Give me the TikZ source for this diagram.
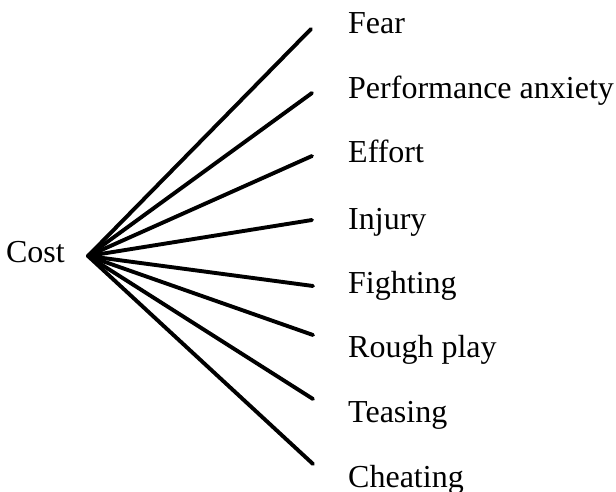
\documentclass[tikz,border=0pt]{standalone}
\usepackage{fontspec}
\setmainfont{Liberation Serif}
\begin{document}
\begin{tikzpicture}[x=1pt,y=-1pt,
  label/.style={anchor=base west,inner sep=0pt,font=\fontsize{32}{38}\selectfont},
  root/.style={anchor=base east,inner sep=0pt,font=\fontsize{32}{38}\selectfont},
  branch/.style={line width=3.9pt,line cap=round}]
  \useasboundingbox (0,0) rectangle (616,492);
  \clip (0,0) rectangle (616,492);

  % root of the fan
  \node[root] (cost) at (65,262) {Cost};
  \coordinate (hub) at (88,256);

  % free ends of the branches
  \coordinate (e1) at (311,29);
  \coordinate (e2) at (312,93);
  \coordinate (e3) at (312,156);
  \coordinate (e4) at (312,220);
  \coordinate (e5) at (313,286);
  \coordinate (e6) at (313,335);
  \coordinate (e7) at (313,399);
  \coordinate (e8) at (313,464);

  % labels
  \node[label] (l1) at (348,34)  {Fear};
  \node[label] (l2) at (348,99)  {Performance anxiety};
  \node[label] (l3) at (348,163) {Effort};
  \node[label] (l4) at (348,229) {Injury};
  \node[label] (l5) at (348,293) {Fighting};
  \node[label] (l6) at (348,357) {Rough play};
  \node[label] (l7) at (348,422) {Teasing};
  \node[label] (l8) at (348,487) {Cheating};

  % branches
  \foreach \i in {1,...,8}
    \draw[branch] (hub) -- (e\i);
\end{tikzpicture}
\end{document}
